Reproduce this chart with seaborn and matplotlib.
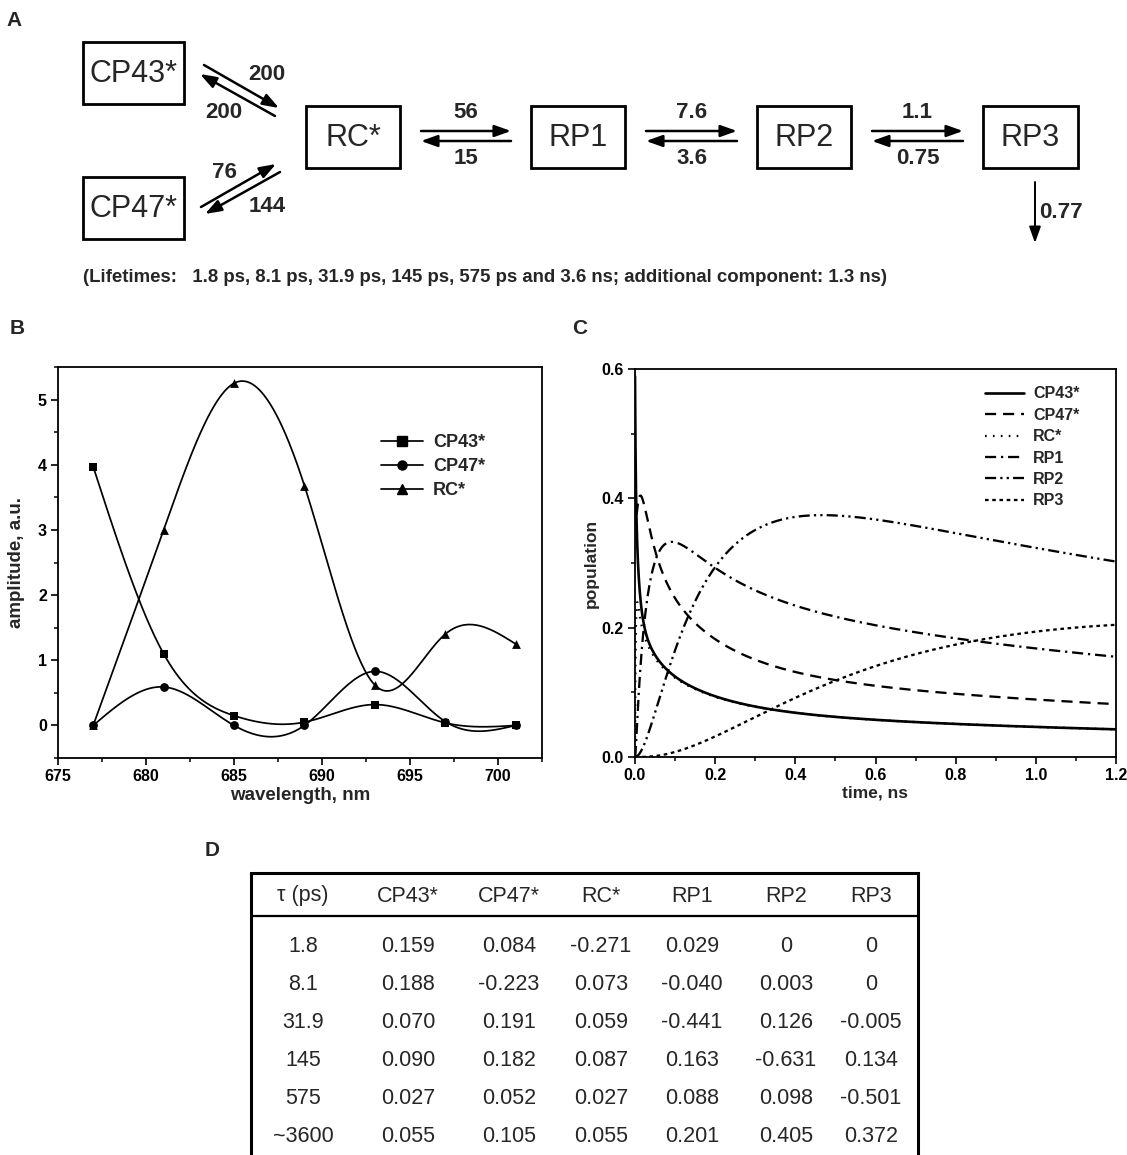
import numpy as np
import pandas as pd
import matplotlib
matplotlib.use("Agg")
import matplotlib.pyplot as plt
import seaborn as sns
from matplotlib.lines import Line2D
from matplotlib.patches import Rectangle
from matplotlib.ticker import MultipleLocator

# ---------------- data ----------------
# Panel A: kinetic scheme (rates in ns^-1)
species = ["CP43*", "CP47*", "RC*", "RP1", "RP2", "RP3"]
antenna_to_rc = ["200", "76"]        # CP43*->RC*, CP47*->RC*
rc_to_antenna = ["200", "144"]       # RC*->CP43*, RC*->CP47*
chain_forward = ["56", "7.6", "1.1"]   # RC*->RP1, RP1->RP2, RP2->RP3
chain_backward = ["15", "3.6", "0.75"]
rp3_decay = "0.77"
lifetimes_note = ("(Lifetimes:   1.8 ps, 8.1 ps, 31.9 ps, 145 ps, 575 ps and 3.6 ns; "
                  "additional component: 1.3 ns)")

# Panel B: species-associated spectra
wavelength = [677, 681, 685, 689, 693, 697, 701]
sas_CP43 = [3.97, 1.10, 0.15, 0.05, 0.32, 0.04, 0.00]
sas_CP47 = [0.00, 0.59, 0.00, 0.00, 0.83, 0.06, 0.00]
sas_RC = [0.00, 3.00, 5.25, 3.68, 0.62, 1.40, 1.25]

# Panel D: lifetimes and amplitudes (table); panel C populations are the
# multi-exponential sums given by this table
tau_labels = ["1.8", "8.1", "31.9", "145", "575", "~3600"]
tau_ps = [1.8, 8.1, 31.9, 145, 575, 3600]
amp_CP43 = [0.159, 0.188, 0.070, 0.090, 0.027, 0.055]
amp_CP47 = [0.084, -0.223, 0.191, 0.182, 0.052, 0.105]
amp_RC = [-0.271, 0.073, 0.059, 0.087, 0.027, 0.055]
amp_RP1 = [0.029, -0.040, -0.441, 0.163, 0.088, 0.201]
amp_RP2 = [0, 0.003, 0.126, -0.631, 0.098, 0.405]
amp_RP3 = [0, 0, -0.005, 0.134, -0.501, 0.372]

# ---------------- style ----------------
sns.set_theme(style="ticks")
plt.rcParams["font.family"] = ["Liberation Sans", "DejaVu Sans"]
plt.rcParams["lines.scale_dashes"] = False
plt.rcParams["axes.linewidth"] = 1.2

W, H = 1127, 1155
fig = plt.figure(figsize=(W / 100, H / 100), dpi=100)

# overlay axis in pixel coordinates for scheme, labels and table
ov = fig.add_axes([0, 0, 1, 1], zorder=0)
ov.set_xlim(0, W)
ov.set_ylim(H, 0)
ov.axis("off")

# panel letters
for letter, (lx, ly) in zip("ABCD", [(14, 20), (17, 329), (580, 329), (212, 850)]):
    ov.text(lx, ly, letter, fontsize=15, fontweight="bold", ha="center", va="center")

# ---------------- panel A ----------------
boxes = [(83, 42, 184, 104), (83, 177, 184, 239), (306, 106, 400, 168),
         (531, 106, 625, 168), (757, 106, 851, 168), (983, 106, 1078, 168)]
for name, (x0, y0, x1, y1) in zip(species, boxes):
    ov.add_patch(Rectangle((x0, y0), x1 - x0, y1 - y0, fill=False, lw=2.0, ec="black"))
    ov.text((x0 + x1) / 2, (y0 + y1) / 2 + 1, name, fontsize=22, ha="center", va="center")

aprops = dict(arrowstyle="-|>,head_length=0.7,head_width=0.25", color="black",
              lw=1.8, shrinkA=0, shrinkB=0, mutation_scale=14)

def arrow(x0, y0, x1, y1, **kw):
    p = dict(aprops)
    p.update(kw)
    ov.annotate("", xy=(x1, y1), xytext=(x0, y0), arrowprops=p)

# diagonal arrows
arrow(204, 65, 279, 108)          # CP43* -> RC*
arrow(275, 116, 200, 74)          # RC* -> CP43*
arrow(201, 207, 276, 164)         # CP47* -> RC*
arrow(280, 172, 205, 214)         # RC* -> CP47*
lab = dict(fontsize=16, fontweight="bold", ha="center", va="center")
ov.text(267, 74, antenna_to_rc[0], **lab)
ov.text(224, 113, rc_to_antenna[0], **lab)
ov.text(224, 173, antenna_to_rc[1], **lab)
ov.text(267, 206, rc_to_antenna[1], **lab)

# horizontal chain arrows
for i, (f, b) in enumerate(zip(chain_forward, chain_backward)):
    xl = boxes[i + 2][2] + 21
    xr = boxes[i + 3][0] - 20
    xc = (xl + xr) / 2
    arrow(xl, 131, xr, 131)
    arrow(xr, 141, xl, 141)
    ov.text(xc, 113, f, **lab)
    ov.text(xc, 158, b, **lab)

arrow(1035, 182, 1035, 243, lw=1.4)
ov.text(1039, 213, rp3_decay, fontsize=16, fontweight="bold", ha="left", va="center")
ov.text(83, 277, lifetimes_note, fontsize=13.4, fontweight="bold", ha="left", va="center")

# ---------------- panel B ----------------
def natural_spline(x, y, xs):
    x = np.asarray(x, float)
    y = np.asarray(y, float)
    n = len(x)
    h = np.diff(x)
    A = np.zeros((n, n))
    r = np.zeros(n)
    A[0, 0] = A[-1, -1] = 1
    for i in range(1, n - 1):
        A[i, i - 1] = h[i - 1]
        A[i, i] = 2 * (h[i - 1] + h[i])
        A[i, i + 1] = h[i]
        r[i] = 3 * ((y[i + 1] - y[i]) / h[i] - (y[i] - y[i - 1]) / h[i - 1])
    c = np.linalg.solve(A, r)
    b = (y[1:] - y[:-1]) / h - h * (2 * c[:-1] + c[1:]) / 3
    d = (c[1:] - c[:-1]) / (3 * h)
    idx = np.clip(np.searchsorted(x, xs) - 1, 0, n - 2)
    dx = xs - x[idx]
    return y[idx] + b[idx] * dx + c[idx] * dx ** 2 + d[idx] * dx ** 3

axB = fig.add_axes([58 / W, 1 - 758 / H, (542 - 58) / W, (758 - 367) / H], zorder=2)
wl_fine = np.linspace(wavelength[0], wavelength[-1], 400)
b_series = [("CP43*", sas_CP43, "s"), ("CP47*", sas_CP47, "o"), ("RC*", sas_RC, "^")]
b_handles = []
for name, vals, mk in b_series:
    curve = pd.DataFrame({"wl": wl_fine, "amp": natural_spline(wavelength, vals, wl_fine)})
    sns.lineplot(data=curve, x="wl", y="amp", ax=axB, color="black", lw=1.25,
                 estimator=None, sort=False)
    pts = pd.DataFrame({"wl": wavelength, "amp": vals})
    sns.scatterplot(data=pts, x="wl", y="amp", ax=axB, color="black", marker=mk,
                    s=40, edgecolor="black", linewidth=0, zorder=3)
    b_handles.append(Line2D([], [], color="black", lw=1.25, marker=mk, ms=6.5, label=name))

axB.set_xlim(675, 702.5)
axB.set_ylim(-0.5, 5.5)
axB.xaxis.set_major_locator(MultipleLocator(5))
axB.xaxis.set_minor_locator(MultipleLocator(2.5))
axB.yaxis.set_major_locator(MultipleLocator(1))
axB.yaxis.set_minor_locator(MultipleLocator(0.5))
axB.set_xlabel("wavelength, nm", fontsize=13.5, fontweight="bold", labelpad=2)
axB.set_ylabel("amplitude, a.u.", fontsize=13.5, fontweight="bold", labelpad=9)
axB.legend(handles=b_handles, loc="upper left", bbox_to_anchor=(0.668, 0.828),
           frameon=False, prop=dict(weight="bold", size=13),
           handlelength=2.3, handletextpad=0.55, labelspacing=0.38,
           borderaxespad=0, borderpad=0)

# ---------------- panel C ----------------
axC = fig.add_axes([635 / W, 1 - 757 / H, (1116 - 635) / W, (757 - 369) / H], zorder=2)
t_ns = np.concatenate([np.linspace(0, 0.03, 400), np.linspace(0.03, 1.2, 800)[1:]])
c_series = [("CP43*", amp_CP43, "-"),
            ("CP47*", amp_CP47, (0, (8, 5))),
            ("RC*", amp_RC, (0, (1.2, 4.5))),
            ("RP1", amp_RP1, (0, (8, 3.5, 1.6, 3.5))),
            ("RP2", amp_RP2, (0, (8, 3, 1.6, 3, 1.6, 3))),
            ("RP3", amp_RP3, (0, (2.6, 2.6)))]
c_handles = []
for name, amps, ls in c_series:
    pop = np.zeros_like(t_ns)
    for a, tau in zip(amps, tau_ps):
        pop += a * np.exp(-t_ns * 1000.0 / tau)
    df = pd.DataFrame({"t": t_ns, "pop": pop})
    lw = 1.9 if ls == "-" else 1.65
    sns.lineplot(data=df, x="t", y="pop", ax=axC, color="black", lw=lw,
                 linestyle=ls, estimator=None, sort=False)
    c_handles.append(Line2D([], [], color="black", lw=lw, linestyle=ls, label=name))

axC.set_xlim(0, 1.2)
axC.set_ylim(0, 0.6)
axC.xaxis.set_major_locator(MultipleLocator(0.2))
axC.xaxis.set_minor_locator(MultipleLocator(0.1))
axC.yaxis.set_major_locator(MultipleLocator(0.2))
axC.yaxis.set_minor_locator(MultipleLocator(0.1))
axC.set_xlabel("time, ns", fontsize=12.5, fontweight="bold", labelpad=2)
axC.set_ylabel("population", fontsize=12.5, fontweight="bold", labelpad=2)
axC.legend(handles=c_handles, loc="upper left", bbox_to_anchor=(0.728, 0.955),
           frameon=False, prop=dict(weight="bold", size=11.5),
           handlelength=2.4, handletextpad=0.6, labelspacing=0.4,
           borderaxespad=0, borderpad=0)

for ax in (axB, axC):
    for s in ax.spines.values():
        s.set_visible(True)
        s.set_linewidth(1.3)
        s.set_color("black")
    ax.tick_params(which="major", direction="out", length=5, width=1.2, colors="black",
                   labelsize=11.5, pad=3, top=False, right=False)
    ax.tick_params(which="minor", direction="out", length=3, width=1.1, colors="black",
                   top=False, right=False)
    for t in ax.get_xticklabels() + ax.get_yticklabels():
        t.set_fontweight("bold")
    ax.grid(False)
    ax.set_facecolor("none")

# ---------------- panel D (table) ----------------
tl, tr, tt, th = 251, 918, 873, 916
ov.plot([tl, tr], [tt, tt], color="black", lw=2.2, solid_capstyle="projecting")
ov.plot([tl, tr], [th, th], color="black", lw=1.6)
ov.plot([tl, tl], [tt, H], color="black", lw=2.2)
ov.plot([tr, tr], [tt, H], color="black", lw=2.2)

col_x = [303, 408, 509, 601, 692, 786, 871]
headers = ["\u03c4 (ps)"] + species
row_y = [947, 985, 1023, 1061, 1099, 1137]
columns = [amp_CP43, amp_CP47, amp_RC, amp_RP1, amp_RP2, amp_RP3]

def fmt(v):
    return "0" if v == 0 else f"{v:.3f}"

for x, hd in zip(col_x, headers):
    ov.text(x, 896, hd, fontsize=15.5, ha="center", va="center")
for j, y in enumerate(row_y):
    ov.text(col_x[0], y, tau_labels[j], fontsize=15.5, ha="center", va="center")
    for k, col in enumerate(columns):
        ov.text(col_x[k + 1], y, fmt(col[j]), fontsize=15.5, ha="center", va="center")

fig.savefig("out.png", dpi=100)
